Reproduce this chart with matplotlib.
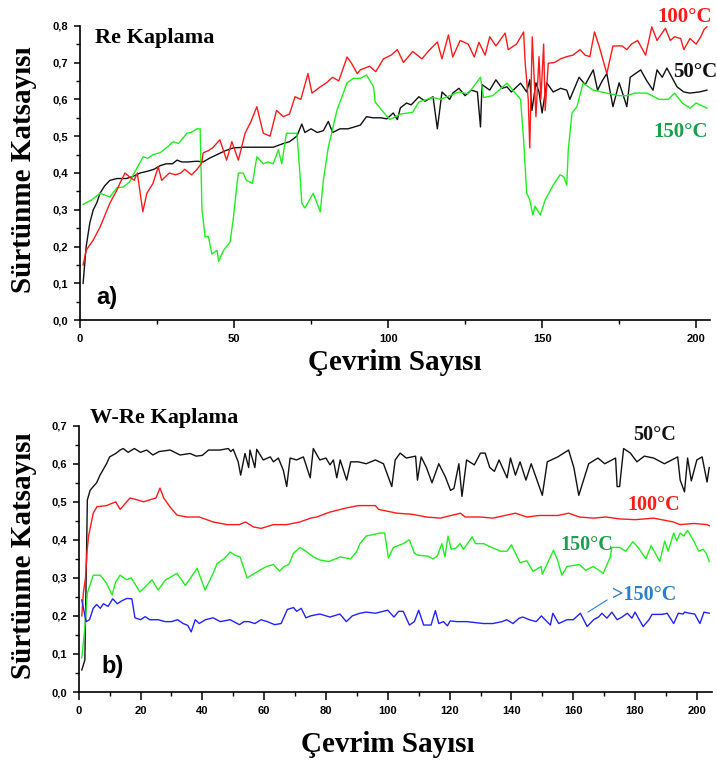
import matplotlib
matplotlib.use("Agg")
import matplotlib.pyplot as plt
from matplotlib.ticker import MultipleLocator, FuncFormatter
from matplotlib.lines import Line2D

# ---------------- Data: panel a) Re Kaplama ----------------
a50_x = [1, 2, 3.2, 4.3, 5.5, 6.5, 8, 9.7, 12, 15, 17, 19.5, 22, 24, 26, 28, 30, 31.5, 33, 35, 38, 40, 42, 44.5,
         47, 49.7, 53, 56, 59, 62.7, 66, 68, 70.4, 72, 73, 75, 77, 79, 80.6, 82, 84.4, 87, 89, 91, 93, 95, 97.5,
         99.6, 101.7, 103, 104, 106, 107.5, 110, 112, 114.6, 116, 117.5, 120, 121, 123, 125, 127, 129, 130,
         130.5, 133, 135, 137, 138.6, 140, 143, 145, 146, 146.7, 148, 149, 150, 151.5, 153.6, 156, 158, 159,
         162, 164, 166.6, 168, 169.5, 171, 173, 175, 176, 177.5, 178.6, 182, 184, 186, 187.3, 189, 190.5,
         193.8, 196, 198, 201, 203.5]
a50_y = [0.10, 0.20, 0.265, 0.30, 0.32, 0.345, 0.365, 0.38, 0.385, 0.385, 0.39, 0.40, 0.405, 0.41, 0.42, 0.425,
         0.425, 0.435, 0.43, 0.43, 0.432, 0.43, 0.44, 0.45, 0.46, 0.468, 0.47, 0.47, 0.47, 0.47, 0.48, 0.485,
         0.50, 0.533, 0.51, 0.52, 0.51, 0.515, 0.54, 0.51, 0.52, 0.52, 0.525, 0.53, 0.553, 0.55, 0.55, 0.547,
         0.563, 0.545, 0.577, 0.59, 0.585, 0.607, 0.595, 0.607, 0.52, 0.62, 0.60, 0.617, 0.63, 0.61, 0.625,
         0.62, 0.525, 0.64, 0.625, 0.653, 0.63, 0.634, 0.62, 0.644, 0.62, 0.653, 0.57, 0.645, 0.62, 0.563,
         0.645, 0.62, 0.63, 0.625, 0.60, 0.66, 0.64, 0.68, 0.625, 0.65, 0.67, 0.58, 0.645, 0.62, 0.58, 0.66,
         0.68, 0.65, 0.625, 0.68, 0.66, 0.685, 0.634, 0.62, 0.617, 0.62, 0.625]

a100_x = [1, 2, 4.3, 6.5, 9.7, 12, 13, 14.6, 16, 17.6, 18.6, 20.4, 21.7, 23.7, 25.4, 26.5, 29, 31, 32.7, 34,
          36.2, 38, 39.5, 40, 41.5, 43, 45.4, 47.6, 49.3, 51.4, 53.6, 55.5, 57.4, 59.5, 61.7, 63.8, 66, 68,
          69.8, 71.7, 74, 75.3, 78, 80, 82, 84, 86.7, 88, 90, 91, 94, 96, 98.5, 101, 103, 105, 108, 111, 113,
          116, 117.5, 119.6, 121, 123.4, 126, 128, 129.5, 131.5, 133, 135, 138, 139, 141.7, 144, 144.5, 145.5,
          146, 146.8, 148, 149, 149.6, 150.5, 151, 152, 154, 156, 158, 160, 162.3, 164, 165.5, 167, 168.5,
          171, 173, 176, 177.5, 179, 181, 183.6, 185.6, 187.3, 190, 191.6, 193, 195, 196, 198, 200, 201.5,
          202.6, 203.5]
a100_y = [0.15, 0.19, 0.218, 0.253, 0.318, 0.354, 0.373, 0.40, 0.39, 0.38, 0.40, 0.295, 0.345, 0.372, 0.417,
          0.38, 0.40, 0.395, 0.40, 0.41, 0.395, 0.41, 0.427, 0.455, 0.46, 0.468, 0.49, 0.435, 0.485, 0.435,
          0.508, 0.54, 0.58, 0.508, 0.50, 0.57, 0.553, 0.56, 0.607, 0.60, 0.67, 0.617, 0.634, 0.645, 0.66,
          0.65, 0.715, 0.70, 0.67, 0.68, 0.69, 0.675, 0.71, 0.72, 0.735, 0.70, 0.73, 0.71, 0.73, 0.756, 0.71,
          0.775, 0.715, 0.76, 0.75, 0.715, 0.755, 0.72, 0.77, 0.745, 0.78, 0.735, 0.75, 0.783, 0.70, 0.60,
          0.468, 0.77, 0.553, 0.716, 0.60, 0.75, 0.57, 0.698, 0.70, 0.71, 0.716, 0.72, 0.735, 0.72, 0.716,
          0.783, 0.745, 0.67, 0.745, 0.745, 0.735, 0.75, 0.76, 0.72, 0.797, 0.76, 0.793, 0.76, 0.77, 0.765,
          0.735, 0.765, 0.75, 0.77, 0.79, 0.797]

a150_x = [1, 3.8, 6.5, 9.7, 12, 14, 16, 17.6, 20.5, 22, 23.7, 26, 28, 30.2, 32, 34.7, 36, 38, 39, 39.6, 40.6,
          41.7, 42.8, 44.5, 45, 46.6, 48.7, 49.7, 51, 51.4, 53, 54, 56, 57.4, 59.5, 61, 62.7, 64.4, 65.5, 67,
          70.4, 71.2, 72, 73, 75.7, 78, 79, 80.6, 83.4, 86.7, 88.7, 91, 93, 95.3, 95.8, 98, 100.6, 104, 108,
          110, 114.6, 117, 120, 123, 126, 130, 131, 134, 138.6, 142, 143, 144, 145, 146, 147, 147.7, 149.4,
          151, 153.6, 155.8, 157, 158, 158.5, 159.7, 161.3, 163.3, 166.6, 171, 175, 177.5, 180, 184, 188, 191,
          193, 195.5, 198, 200, 203.5]
a150_y = [0.315, 0.327, 0.345, 0.335, 0.36, 0.362, 0.375, 0.40, 0.444, 0.44, 0.45, 0.455, 0.468, 0.485, 0.48,
          0.508, 0.51, 0.52, 0.52, 0.30, 0.227, 0.227, 0.18, 0.19, 0.16, 0.19, 0.212, 0.272, 0.372, 0.40, 0.40,
          0.38, 0.372, 0.444, 0.425, 0.43, 0.425, 0.463, 0.425, 0.508, 0.508, 0.42, 0.318, 0.305, 0.345, 0.295,
          0.38, 0.47, 0.57, 0.645, 0.657, 0.657, 0.666, 0.634, 0.593, 0.57, 0.545, 0.56, 0.565, 0.593, 0.605,
          0.60, 0.61, 0.62, 0.615, 0.66, 0.605, 0.61, 0.644, 0.61, 0.60, 0.49, 0.345, 0.327, 0.286, 0.31,
          0.286, 0.327, 0.367, 0.395, 0.39, 0.367, 0.463, 0.563, 0.58, 0.644, 0.625, 0.617, 0.61, 0.61, 0.617,
          0.617, 0.60, 0.60, 0.617, 0.59, 0.576, 0.59, 0.576]

# ---------------- Data: panel b) W-Re Kaplama ----------------
b50_x = [1, 2, 2.8, 3.7, 4.7, 5.8, 6.9, 9, 10, 12, 13.4, 14.4, 16, 18, 20, 22, 24, 26, 29.6, 32.8, 36, 38, 40,
         42, 45.7, 48.4, 49.2, 50, 51.6, 52.4, 53.8, 55, 55.4, 57, 57.6, 59.7, 62, 63, 64.6, 66.2, 67.3, 68.4,
         70.5, 72.7, 74.9, 75.9, 78, 80, 81.3, 82.4, 83.5, 84.6, 86.7, 88, 90.5, 93, 96, 98.6, 101.3, 102.4,
         104, 106, 109, 109.6, 110.8, 112.5, 114.3, 116.5, 118.6, 120.3, 121.4, 123, 124, 125.5, 128, 130,
         131.5, 133, 134.5, 136, 138.6, 139.7, 141.3, 142.8, 144.7, 146.4, 150, 151.6, 155, 158.5, 160.2,
         161.8, 165, 168, 170.2, 173.7, 174.2, 175, 176.3, 178.5, 180.6, 183, 186, 189.5, 193.8, 194.6, 196,
         197, 198.2, 200, 201.7, 203.3, 204]
b50_y = [0.058, 0.084, 0.505, 0.53, 0.54, 0.55, 0.57, 0.60, 0.618, 0.627, 0.636, 0.64, 0.63, 0.64, 0.63, 0.636,
         0.623, 0.632, 0.636, 0.623, 0.627, 0.62, 0.622, 0.636, 0.636, 0.64, 0.632, 0.638, 0.605, 0.57, 0.627,
         0.59, 0.636, 0.59, 0.638, 0.61, 0.618, 0.605, 0.615, 0.583, 0.54, 0.615, 0.61, 0.618, 0.563, 0.64,
         0.61, 0.615, 0.597, 0.61, 0.563, 0.61, 0.557, 0.605, 0.605, 0.60, 0.61, 0.60, 0.54, 0.61, 0.628,
         0.615, 0.62, 0.557, 0.618, 0.59, 0.55, 0.60, 0.566, 0.53, 0.535, 0.60, 0.514, 0.61, 0.597, 0.628,
         0.628, 0.59, 0.58, 0.61, 0.563, 0.615, 0.57, 0.605, 0.557, 0.60, 0.517, 0.605, 0.618, 0.636, 0.59,
         0.517, 0.60, 0.615, 0.60, 0.615, 0.54, 0.54, 0.64, 0.628, 0.605, 0.62, 0.615, 0.60, 0.618, 0.557,
         0.526, 0.615, 0.555, 0.61, 0.618, 0.552, 0.59]

b100_x = [1, 1.5, 2.2, 2.7, 3.2, 4.7, 5.9, 9, 12, 13.4, 15, 16.6, 19, 21, 25, 26.3, 27.5, 29.6, 31.8, 35, 39,
          43.5, 48, 52, 54, 56.5, 59, 63, 67.3, 71.6, 75, 77, 81.3, 86.7, 90.5, 96, 97, 103, 108, 112.5, 117,
          123.5, 125, 130, 134, 141.3, 145, 149, 155, 158.5, 162, 166.5, 170.5, 175, 180, 186, 192.4, 194.5,
          199, 203.3, 204]
b100_y = [0.20, 0.26, 0.30, 0.37, 0.41, 0.47, 0.487, 0.49, 0.50, 0.48, 0.495, 0.51, 0.505, 0.50, 0.51, 0.536,
          0.51, 0.486, 0.465, 0.46, 0.46, 0.447, 0.44, 0.44, 0.447, 0.434, 0.43, 0.44, 0.44, 0.447, 0.457, 0.46,
          0.473, 0.484, 0.49, 0.49, 0.48, 0.47, 0.467, 0.46, 0.457, 0.47, 0.46, 0.46, 0.457, 0.47, 0.46, 0.464,
          0.464, 0.47, 0.46, 0.457, 0.46, 0.455, 0.453, 0.457, 0.447, 0.44, 0.443, 0.44, 0.437]

b150_x = [1, 2, 2.8, 4.7, 7, 9, 10.8, 12, 13.4, 15.5, 17, 19.8, 21.5, 23.7, 25.7, 28, 31.8, 34.5, 38.3, 40.9,
          43.5, 44.8, 47, 49, 50.5, 52.2, 54.5, 56.5, 58.5, 60.8, 63, 65, 66.5, 68, 69.5, 71.6, 73.5, 76, 78,
          81, 84.5, 88, 90, 91, 93, 97.6, 99, 100.2, 101.8, 105, 107, 108.6, 109.6, 113, 114.6, 116, 117.5,
          118.5, 119.5, 120.5, 122, 123.4, 124.5, 127.3, 128.4, 131, 134.2, 136.5, 138.6, 140, 142.8, 145, 147,
          149.6, 150, 151.6, 153.6, 155, 156.3, 158, 162, 164, 166.5, 169.7, 172, 172.5, 175, 177, 179.3, 181,
          183.5, 185.2, 188, 189.6, 190.7, 192.5, 193.5, 194.6, 195.7, 197, 199, 200.6, 202, 203, 204]
b150_y = [0.09, 0.17, 0.26, 0.307, 0.307, 0.286, 0.255, 0.29, 0.307, 0.295, 0.30, 0.263, 0.276, 0.295, 0.268,
          0.294, 0.312, 0.28, 0.325, 0.268, 0.312, 0.338, 0.35, 0.368, 0.36, 0.355, 0.30, 0.31, 0.32, 0.33,
          0.335, 0.318, 0.33, 0.335, 0.365, 0.38, 0.37, 0.355, 0.347, 0.343, 0.355, 0.35, 0.37, 0.39, 0.41,
          0.418, 0.418, 0.352, 0.38, 0.39, 0.40, 0.365, 0.36, 0.357, 0.35, 0.357, 0.39, 0.355, 0.41, 0.375,
          0.378, 0.39, 0.375, 0.408, 0.39, 0.39, 0.378, 0.37, 0.37, 0.387, 0.34, 0.345, 0.317, 0.33, 0.31,
          0.337, 0.373, 0.345, 0.307, 0.33, 0.335, 0.32, 0.33, 0.312, 0.355, 0.38, 0.38, 0.37, 0.395, 0.38,
          0.35, 0.385, 0.343, 0.397, 0.37, 0.418, 0.397, 0.418, 0.41, 0.425, 0.397, 0.37, 0.375, 0.365, 0.343]

b200_x = [1, 2.4, 3.5, 4.7, 5.8, 7, 8, 9.5, 11, 12.5, 14, 15.6, 17.2, 18.2, 20, 21.5, 23, 25.7, 28, 30, 32,
          33.8, 35.3, 36.4, 37.7, 39, 41, 43.5, 45.8, 49, 52, 53.5, 55, 57, 59, 61, 63.4, 65.5, 67.5, 69.5,
          70.5, 72, 73.5, 75, 78, 81.3, 84.5, 86.6, 88.5, 91, 93, 96, 100, 102, 103.5, 105, 107, 108.6, 110,
          111.6, 114, 115.4, 116.5, 118, 119.3, 120.2, 122.3, 125.5, 131, 134, 137, 138.5, 140.5, 142.5, 143.7,
          145.8, 148, 149.7, 152.6, 153.4, 155.3, 158, 160, 162.3, 164.5, 166.6, 168.2, 169.3, 170.9, 172.5,
          174.2, 175.8, 177.5, 179, 180, 182.6, 184.5, 185.5, 188.8, 190.4, 192.5, 194, 195.6, 196, 197.6, 199.3,
          201, 202.3, 204]
b200_y = [0.242, 0.185, 0.19, 0.22, 0.23, 0.22, 0.232, 0.225, 0.245, 0.232, 0.24, 0.246, 0.245, 0.195, 0.19,
          0.198, 0.19, 0.19, 0.185, 0.185, 0.19, 0.18, 0.175, 0.158, 0.19, 0.18, 0.19, 0.195, 0.185, 0.19,
          0.177, 0.185, 0.185, 0.18, 0.19, 0.185, 0.177, 0.18, 0.217, 0.222, 0.212, 0.22, 0.195, 0.20, 0.205,
          0.197, 0.205, 0.185, 0.20, 0.207, 0.21, 0.207, 0.215, 0.197, 0.212, 0.212, 0.176, 0.185, 0.215, 0.176,
          0.176, 0.214, 0.18, 0.185, 0.174, 0.187, 0.185, 0.185, 0.18, 0.18, 0.185, 0.19, 0.18, 0.194, 0.197,
          0.19, 0.185, 0.20, 0.176, 0.207, 0.18, 0.19, 0.19, 0.207, 0.172, 0.19, 0.197, 0.207, 0.194, 0.21,
          0.19, 0.197, 0.207, 0.194, 0.21, 0.172, 0.19, 0.204, 0.204, 0.207, 0.18, 0.207, 0.205, 0.21, 0.207,
          0.205, 0.18, 0.21, 0.207]

a_xticks = [0, 50, 100, 150, 200]
a_yticks = [0.0, 0.1, 0.2, 0.3, 0.4, 0.5, 0.6, 0.7, 0.8]
b_xticks = [0, 20, 40, 60, 80, 100, 120, 140, 160, 180, 200]
b_yticks = [0.0, 0.1, 0.2, 0.3, 0.4, 0.5, 0.6, 0.7]

ylabel = "Sürtünme Katsayısı"
xlabel = "Çevrim Sayısı"

# ---------------- Figure ----------------
W, H = 717, 762
fig = plt.figure(figsize=(W / 100, H / 100), dpi=100)

SERIF = "Liberation Serif"
SANS = "Liberation Sans"
RED = "#ff1a1a"
GREEN = "#1ef01e"
BLACK = "#111111"
BLUE = "#2222ff"
GREEN_TXT = "#1aa04c"
BLUE_TXT = "#2a7fd0"


def px(x, y):
    return x / W, 1 - y / H


def style_axes(ax, xticks, yticks, xmin_minor, ymin_minor, xlim, ylim):
    ax.set_xlim(*xlim)
    ax.set_ylim(*ylim)
    ax.set_xticks(xticks)
    ax.set_yticks(yticks)
    ax.xaxis.set_minor_locator(MultipleLocator(xmin_minor))
    ax.yaxis.set_minor_locator(MultipleLocator(ymin_minor))
    ax.yaxis.set_major_formatter(FuncFormatter(lambda v, p: f"{v:.1f}".replace(".", ",")))
    ax.xaxis.set_major_formatter(FuncFormatter(lambda v, p: f"{int(round(v))}"))
    for s in ["top", "right"]:
        ax.spines[s].set_visible(False)
    for s in ["left", "bottom"]:
        ax.spines[s].set_linewidth(1.2)
    ax.tick_params(axis="both", which="major", direction="out", width=1.1, pad=4,
                   labelsize=8)
    ax.tick_params(axis="x", which="major", length=6)
    ax.tick_params(axis="y", which="major", length=4.5)
    ax.tick_params(axis="both", which="minor", direction="out", width=1.0, length=3)
    for lab in ax.get_xticklabels() + ax.get_yticklabels():
        lab.set_fontfamily(SANS)
        lab.set_fontweight("bold")


# Panel a
ax1 = fig.add_axes([80 / W, 1 - 320.3 / H, 630 / W, (320.3 - 25.7) / H])
ax1.plot(a50_x, a50_y, color=BLACK, lw=1.0)
ax1.plot(a150_x, a150_y, color=GREEN, lw=1.0)
ax1.plot(a100_x, a100_y, color=RED, lw=1.0)
style_axes(ax1, a_xticks, a_yticks, 25, 0.05, (0, 204.5), (0, 0.8))

# Panel b
ax2 = fig.add_axes([78.7 / W, 1 - 692 / H, 633 / W, (692 - 425.7) / H])
ax2.plot(b50_x, b50_y, color=BLACK, lw=1.0)
ax2.plot(b100_x, b100_y, color=RED, lw=1.0)
ax2.plot(b150_x, b150_y, color=GREEN, lw=1.0)
ax2.plot(b200_x, b200_y, color=BLUE, lw=1.0)
style_axes(ax2, b_xticks, b_yticks, 10, 0.05, (0, 204.8), (0, 0.7))

# Texts panel a
fig.text(*px(95, 43), "Re Kaplama", fontfamily=SERIF, fontweight="bold", fontsize=16, va="baseline")
fig.text(*px(96, 304), "a)", fontfamily=SANS, fontweight="bold", fontsize=17, va="baseline")
fig.text(*px(657, 22), "100°C", fontfamily=SERIF, fontweight="bold", fontsize=15, color=RED, va="baseline")
fig.text(*px(673, 77), "50°C", fontfamily=SERIF, fontweight="bold", fontsize=15, color=BLACK, va="baseline")
fig.text(*px(653, 137), "150°C", fontfamily=SERIF, fontweight="bold", fontsize=15, color=GREEN_TXT, va="baseline")

# Texts panel b
fig.text(*px(90, 423), "W-Re Kaplama", fontfamily=SERIF, fontweight="bold", fontsize=16, va="baseline")
fig.text(*px(101, 673), "b)", fontfamily=SANS, fontweight="bold", fontsize=17, va="baseline")
fig.text(*px(633, 440), "50°C", fontfamily=SERIF, fontweight="bold", fontsize=14.5, color=BLACK, va="baseline")
fig.text(*px(627, 510), "100°C", fontfamily=SERIF, fontweight="bold", fontsize=14.5, color=RED, va="baseline")
fig.text(*px(560, 550), "150°C", fontfamily=SERIF, fontweight="bold", fontsize=14.5, color=GREEN_TXT, va="baseline")
fig.text(*px(612, 600), ">150°C", fontfamily=SERIF, fontweight="bold", fontsize=14.5, color=BLUE_TXT, va="baseline")
x0, y0 = px(588, 612)
x1, y1 = px(607, 600)
fig.add_artist(Line2D([x0, x1], [y0, y1], transform=fig.transFigure, color=BLUE_TXT, lw=0.8))

# Axis labels
fig.text(*px(24, 170), ylabel, fontfamily=SERIF, fontweight="bold", fontsize=21, rotation=90,
         ha="center", va="center")
fig.text(*px(24, 556), ylabel, fontfamily=SERIF, fontweight="bold", fontsize=21, rotation=90,
         ha="center", va="center")
fig.text(*px(395, 362), xlabel, fontfamily=SERIF, fontweight="bold", fontsize=21, ha="center", va="center")
fig.text(*px(388, 745), xlabel, fontfamily=SERIF, fontweight="bold", fontsize=21, ha="center", va="center")

fig.savefig("out.png", dpi=100)
